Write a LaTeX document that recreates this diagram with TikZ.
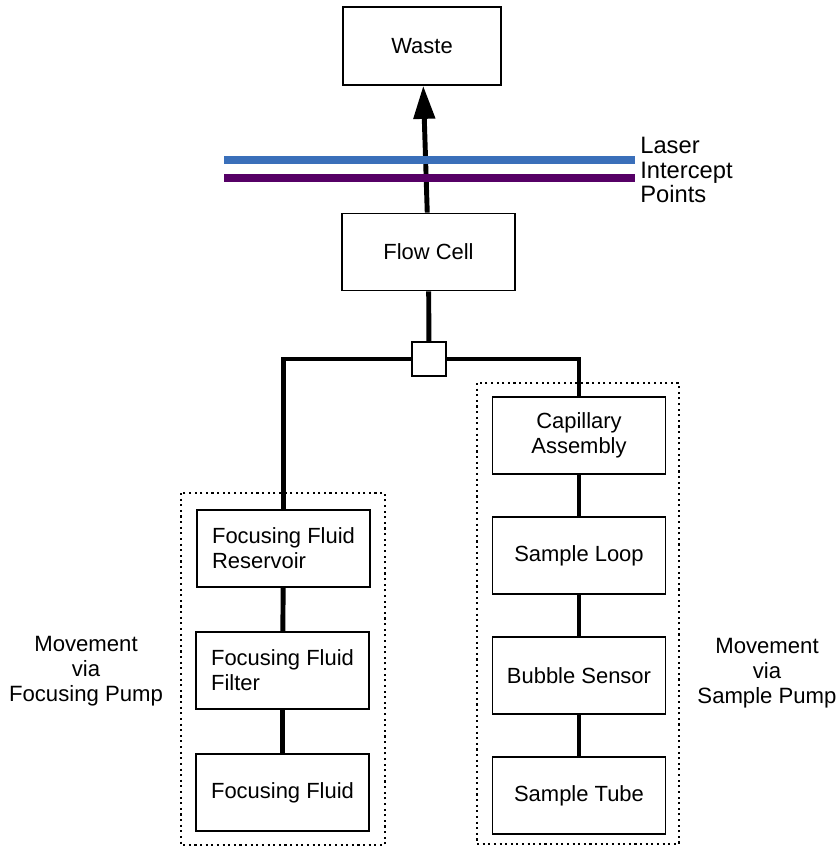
\documentclass[tikz,border=0pt]{standalone}
\usepackage{fontspec}
\setmainfont{Liberation Sans}
\usepackage{xcolor}
\usetikzlibrary{arrows.meta}
\definecolor{laserblue}{RGB}{58,111,186}
\definecolor{laserpurple}{RGB}{86,0,102}
\tikzset{
    box/.style={draw, line width=1pt, minimum width=3.46cm, minimum height=1.54cm, inner sep=2pt, font=\fontsize{12.5}{14.2}\selectfont},
    pipe/.style={line width=2.8pt},
    group/.style={dotted, line width=1.2pt},
    laser/.style={line width=4.5pt},
    note/.style={align=center, font=\fontsize{12.6}{14.2}\selectfont}}

\begin{document}
\begin{tikzpicture}[x=0.02cm, y=-0.02cm]
\useasboundingbox (0,0) rectangle (838,846);
\node[box, minimum width=3.16cm, minimum height=1.56cm] (waste) at (422,46) {Waste};
\node[box] (flow) at (428.5,252) {Flow Cell};
\node[draw, line width=1pt, minimum size=0.68cm, inner sep=0pt] (junc) at (429,359) {};
% focusing side
\node[box, align=left] (res) at (283.5,548.5) {Focusing Fluid\\Reservoir};
\node[box, align=left] (filt) at (282.5,670.5) {Focusing Fluid\\Filter};
\node[box] (ffluid) at (282.5,792.5) {Focusing Fluid};
% sample side
\node[box, align=center] (cap) at (579,435.5) {Capillary\\Assembly};
\node[box] (loop) at (579,555.5) {Sample Loop};
\node[box] (bubble) at (579,675.5) {Bubble Sensor};
\node[box] (tube) at (579,795.5) {Sample Tube};
\draw[group] (181,493) rectangle (385,845);
\draw[group] (477,383) rectangle (679,844);
% laser
\coordinate (L1) at (224,160);
\coordinate (R1) at (635,160);
\coordinate (L2) at (224,178);
\coordinate (R2) at (635,178);
\draw[pipe,-{Triangle[width=0.42cm,length=0.66cm]}] (flow) -- (waste);
\draw[laser, laserblue] (L1)--(R1);
\draw[laser, laserpurple] (L2)--(R2);
\node[anchor = west, align=left, inner sep=0pt, font=\fontsize{13.5}{14.2}\selectfont] (laserlbl) at (640,170) {Laser\\Intercept\\Points};
\draw[pipe] (flow) -- (junc);
\draw[pipe] (junc.west) -| (res.north);
\draw[pipe] (junc.east) -| (cap.north);
\draw[pipe] (res) -- (filt);
\draw[pipe] (filt) -- (ffluid);
\draw[pipe] (cap) -- (loop);
\draw[pipe] (loop) -- (bubble);
\draw[pipe] (bubble) -- (tube);
\node[note] (fpump) at (86,671) {Movement\\via\\Focusing Pump};
\node[note] (spump) at (767,673) {Movement\\via\\Sample Pump};
\end{tikzpicture}
\end{document}
